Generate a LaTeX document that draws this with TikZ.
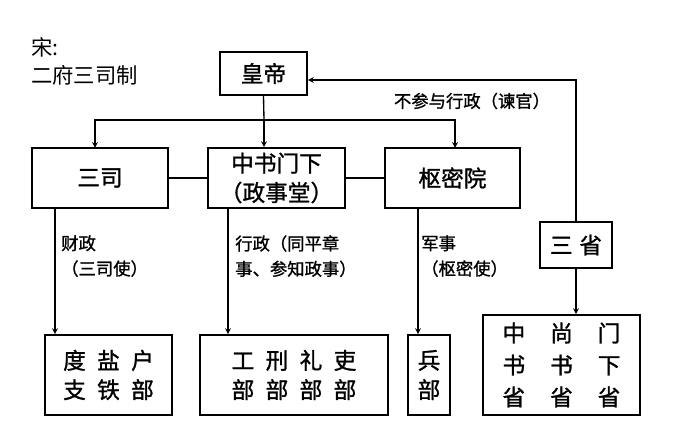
\documentclass[tikz,border=0pt]{standalone}
\usepackage{fontspec}
\setmainfont{Noto Sans CJK SC}
\newfontfamily\cjkb[FakeBold=1.2]{Noto Sans CJK SC}
\usetikzlibrary{positioning, calc}
\tikzset{
  org/.style={draw, line width=1.2pt, inner sep=0pt, align=center, font=\cjkb\fontsize{17}{22}\selectfont},
  lbl/.style={inner sep=0.75pt, align=left, font=\cjkb\fontsize{13}{19}\selectfont},
  conn/.style={line width=1pt},
  arr/.style={conn, -stealth}
}
\begin{document}
\begin{tikzpicture}[x=0.75pt,y=0.75pt,yscale=-1,xscale=1]
\useasboundingbox (0,0) rectangle (692,441);

% title
\node[lbl, anchor=north west, font=\fontsize{16}{21}\selectfont] (title) at (30,36) {宋:\\二府三司制};

% boxes
\node[org, minimum width={87*0.75}, minimum height={43*0.75}] (emp) at (263.5,73.5) {皇帝};
\node[org, minimum width={136*0.75}, minimum height={60*0.75}] (sansi) at (100,178) {三司};
\node[org, minimum width={137*0.75}, minimum height={60*0.75}] (zsmx) at (276.5,178) {中书门下\\（政事堂）};
\node[org, minimum width={135*0.75}, minimum height={60*0.75}] (smy) at (452.5,178) {枢密院};
\node[org, minimum width={72*0.75}, minimum height={46*0.75}] (sansheng) at (576,245) {三\hspace{0.3em}省};
\node[org, minimum width={127*0.75}, minimum height={80*0.75}] (dyh) at (108.5,375) {度\hspace{0.5em}盐\hspace{0.5em}户\\支\hspace{0.5em}铁\hspace{0.5em}部};
\node[org, minimum width={188*0.75}, minimum height={80*0.75}] (gxlr) at (294,375) {工\hspace{0.5em}刑\hspace{0.5em}礼\hspace{0.5em}吏\\部\hspace{0.5em}部\hspace{0.5em}部\hspace{0.5em}部};
\node[org, minimum width={42*0.75}, minimum height={80*0.75}] (bb) at (429,375) {兵\\部};
\node[org, minimum width={157*0.75}, minimum height={100*0.75}, font=\cjkb\fontsize{17}{24}\selectfont] (ssm) at (561.5,365) {中\hspace{1.1em}尚\hspace{1.1em}门\\书\hspace{1.1em}书\hspace{1.1em}下\\省\hspace{1.1em}省\hspace{1.1em}省};

% connectors
\coordinate (fork) at (264,120);
\draw[conn] (emp.south) -- (fork);
\draw[arr] (fork) -- (95,120) -- (95,148);
\draw[arr] (fork) -- (zsmx.north -| fork);
\draw[arr] (fork) -- (455,120) -- (455,148);
\draw[conn] (sansi.east) -- (zsmx.west);
\draw[conn] (zsmx.east) -- (smy.west);
\draw[arr] (sansheng.north) |- (emp.east |- 0,80);
\draw[arr] (sansheng.south) -- (ssm.north -| sansheng.south);
\draw[arr] (55,208) -- (dyh.north -| 55,0);
\draw[arr] (228,208) -- (gxlr.north -| 228,0);
\draw[arr] (418,208) -- (bb.north -| 418,0);

% labels
\node[lbl] (lbl1) at (472,101) {不参与行政（谏官）};
\node[lbl, anchor=north west] (lbl2) at (60,234) {财政\\（三司使）};
\node[lbl, anchor=north west] (lbl3) at (234,234) {行政（同平章\\事、参知政事）};
\node[lbl, anchor=north west] (lbl4) at (420,234) {军事\\（枢密使）};
\end{tikzpicture}
\end{document}
